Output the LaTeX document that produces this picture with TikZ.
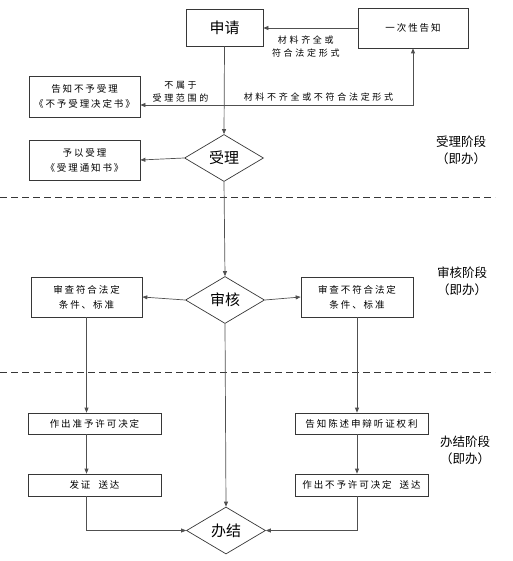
\documentclass[tikz,border=0pt]{standalone}
\usepackage{fontspec}
\setmainfont{Noto Sans CJK SC}
\usepackage{tikz}
\usetikzlibrary{arrows.meta,positioning,shapes.geometric,calc}
\definecolor{edge}{RGB}{80,80,80}
\definecolor{frame}{RGB}{55,55,55}

\begin{document}
\begin{tikzpicture}[x=1pt, y=-1pt,
  every node/.style={font=\fontsize{9.5}{15}\selectfont\addfontfeature{LetterSpace=20}},
  box/.style={draw=frame, line width=0.7pt, minimum width=111pt, minimum height=40pt, inner sep=1pt, align=center},
  wide/.style={box, minimum width=133pt, minimum height=22pt},
  gate/.style={diamond, draw=frame, line width=0.7pt, minimum width=79pt, minimum height=47pt, inner sep=0pt, font=\fontsize{15}{18}\selectfont},
  arr/.style={draw=edge, line width=0.7pt, -{Triangle[length=5pt,width=4pt]}},
  note/.style={font=\fontsize{9}{13}\selectfont\addfontfeature{LetterSpace=30}, align=center},
  phase/.style={font=\fontsize{12.5}{17}\selectfont, align=center},
  cut/.style={draw=frame, line width=0.7pt, dash pattern=on 7pt off 4pt}]
\useasboundingbox (0,0) rectangle (512,561);
% acceptance stage
\node[box, minimum width=77pt, minimum height=37pt, font=\fontsize{15}{18}\selectfont] (apply) at (224.5,27.5) {申请};
\node[box, minimum width=110pt] (notify) at (413,28) {一次性告知};
\node[box, minimum height=41pt] (reject) at (84.5,96.5) {告知不予受理\\《不予受理决定书》};
\node[gate] (accept) at (224,158) {受理};
\node[box] (grant) at (84.5,160) {予以受理\\《受理通知书》};
\node[phase] (phaseA) at (461,150) {受理阶段\\（即办）};
% review stage
\node[gate] (review) at (225,300) {审核};
\node[box] (pass) at (86.5,297) {审查符合法定\\条件、标准};
\node[box, minimum width=112pt] (fail) at (357,297) {审查不符合法定\\条件、标准};
\node[phase] (phaseB) at (462,281) {审核阶段\\（即办）};
% closing stage
\node[wide, minimum height=21pt] (permit) at (94.5,423.5) {作出准予许可决定};
\node[wide] (issue) at (94.5,485) {发证\ \ 送达};
\node[wide, minimum height=21pt] (inform) at (361.5,423.5) {告知陈述申辩听证权利};
\node[wide] (deny) at (361.5,485) {作出不予许可决定\ \ 送达};
\node[gate] (done) at (226,530.5) {办结};
\node[phase] (phaseC) at (465,450) {办结阶段\\（即办）};
% stage borders
\draw[cut] (0,197) -- (495,197);
\draw[cut] (0,372) -- (495,372);
% connectors
\coordinate (split) at (224,105);
\draw[arr] (notify.west) -- (notify.west -| apply.east)
  node[note, pos=0.55, below=4pt]{材料齐全或\\符合法定形式};
\draw[arr] (apply.south) -- (accept.north);
\draw[arr] (split) -- (split -| reject.east)
  node[note, pos=0.52, above=-1pt]{不属于\\受理范围的};
\draw[arr] (split) -| (notify.south)
  node[note, pos=0.25, above=0pt]{材料不齐全或不符合法定形式};
\draw[arr] (accept.west) -- (grant.east);
\draw[arr] (accept.south) -- (review.north);
\draw[arr] (review.west) -- (pass.east);
\draw[arr] (review.east) -- (fail.west);
\draw[arr] (review.south) -- (done.north);
\draw[arr] (pass.south) -- (pass.south |- permit.north);
\draw[arr] (pass.south |- permit.south) -- (pass.south |- issue.north);
\draw[arr] (pass.south |- issue.south) |- (done.west);
\draw[arr] (fail.south) -- (fail.south |- inform.north);
\draw[arr] (fail.south |- inform.south) -- (fail.south |- deny.north);
\draw[arr] (fail.south |- deny.south) |- (done.east);
\end{tikzpicture}
\end{document}
